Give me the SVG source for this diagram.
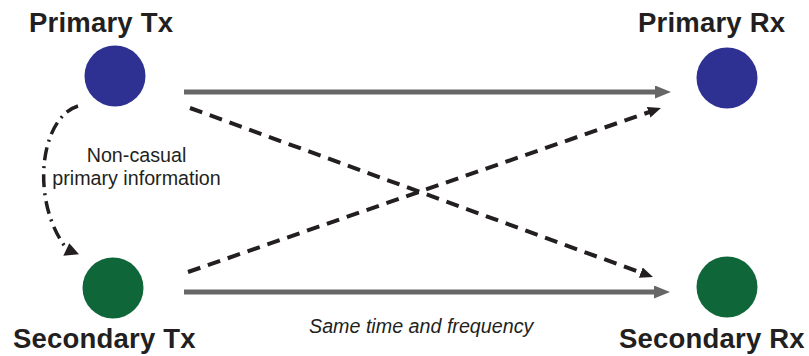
<svg xmlns="http://www.w3.org/2000/svg" width="809" height="356" viewBox="0 0 809 356">
<defs>
<style>
.title{font-family:"Liberation Sans",Arial,sans-serif;font-weight:bold;font-size:27.5px;letter-spacing:0.2px;fill:#231f20}
.lbl{font-family:"Liberation Sans",Arial,sans-serif;font-size:19.7px;fill:#231f20}
.it{font-style:italic}
.solid{stroke:#666;stroke-width:5;fill:none}
.dash{stroke:#231f20;stroke-width:4;fill:none;stroke-dasharray:13 8}
.dashdot{stroke:#231f20;stroke-width:3.5;fill:none;stroke-dasharray:13 6 2 6}
.pri{fill:#2e3192}
.sec{fill:#0e6639}
</style>
<marker id="ahSolid" markerUnits="userSpaceOnUse" markerWidth="17" markerHeight="14" refX="5" refY="6.5" orient="auto">
<path d="M0,0 L16,6.5 L0,13 z" fill="#666"/>
</marker>
<marker id="ahDash" markerUnits="userSpaceOnUse" markerWidth="14" markerHeight="12" refX="5" refY="5.5" orient="auto">
<path d="M0,0 L13,5.5 L0,11 z" fill="#231f20"/>
</marker>
</defs>
<g id="connectors">
<line class="solid" x1="184" y1="92" x2="660" y2="92" marker-end="url(#ahSolid)"/>
<line class="solid" x1="184" y1="292" x2="659" y2="292" marker-end="url(#ahSolid)"/>
<line class="dash" x1="190" y1="108" x2="645.5" y2="274.3" marker-end="url(#ahDash)"/>
<line class="dash" x1="188" y1="272" x2="653.4" y2="110.6" marker-end="url(#ahDash)"/>
<path class="dashdot" d="M78,106 C40,118 30,200 66,248"/>
<polygon points="69.3,243.3 63.3,255.7 79,254.3" fill="#231f20"/>
</g>
<g id="primary-tx">
<circle class="pri" cx="115" cy="76" r="30.5"/>
<text class="title" x="29" y="32">Primary Tx</text>
</g>
<g id="primary-rx">
<circle class="pri" cx="727" cy="78" r="30.5"/>
<text class="title" x="638" y="32">Primary Rx</text>
</g>
<g id="secondary-tx">
<circle class="sec" cx="113" cy="288" r="30.5"/>
<text class="title" x="13" y="348">Secondary Tx</text>
</g>
<g id="secondary-rx">
<circle class="sec" cx="727" cy="287" r="30.5"/>
<text class="title" x="619" y="348">Secondary Rx</text>
</g>
<g id="labels">
<text class="lbl" x="136.5" y="162" text-anchor="middle">Non-casual</text>
<text class="lbl" x="136.5" y="185" text-anchor="middle">primary information</text>
<text class="lbl it" x="309" y="333">Same time and frequency</text>
</g>
</svg>
